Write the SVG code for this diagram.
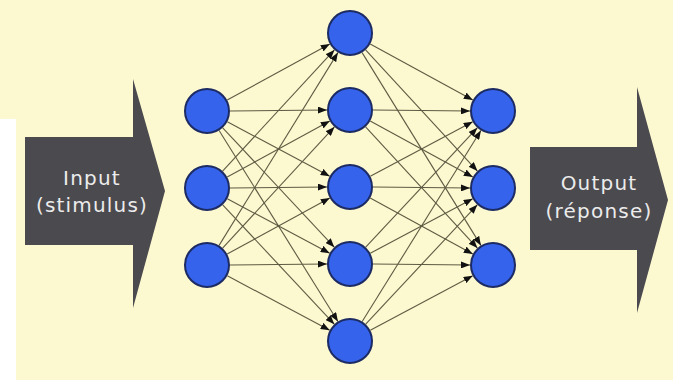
<svg xmlns="http://www.w3.org/2000/svg" width="673" height="380" viewBox="0 0 673 380">
<style>
.bg{fill:#fcf8cf}
.arrow{fill:#4b4a4f}
.lbl{font-family:"DejaVu Sans",sans-serif;font-size:20px;fill:#ececec;text-anchor:middle;letter-spacing:1.2px}
.node{fill:#3563ec;stroke:#1c2b63;stroke-width:2}
.conn line{stroke:#5e5b44;stroke-width:1.1;marker-end:url(#ah)}
</style>
<defs>
<marker id="ah" markerWidth="9" markerHeight="7" refX="9" refY="3.5" orient="auto" markerUnits="userSpaceOnUse">
<path d="M0,0 L9,3.5 L0,7 z" fill="#111"/>
</marker>
</defs>
<rect class="bg" x="0" y="0" width="673" height="380"/>
<rect x="0" y="119" width="16" height="261" fill="#ffffff"/>
<g id="input-arrow">
<polygon class="arrow" points="25,137 133,137 133,79 165,191 133,308 133,245 25,245"/>
<text class="lbl" x="92" y="185">Input</text>
<text class="lbl" x="92" y="212">(stimulus)</text>
</g>
<g id="output-arrow">
<polygon class="arrow" points="530,147 637,147 637,87 668,200 637,313 637,250 530,250"/>
<text class="lbl" x="599" y="190">Output</text>
<text class="lbl" x="599" y="218">(réponse)</text>
</g>
<g class="conn" id="connectors">
<line x1="227.2" y1="100.0" x2="329.8" y2="44.0"/>
<line x1="230" y1="111" x2="327" y2="110"/>
<line x1="227.3" y1="121.8" x2="329.7" y2="176.2"/>
<line x1="222.7" y1="127.8" x2="334.3" y2="247.2"/>
<line x1="219.1" y1="130.5" x2="337.9" y2="321.5"/>
<line x1="222.6" y1="171.1" x2="334.4" y2="49.9"/>
<line x1="227.2" y1="177.0" x2="329.8" y2="121.0"/>
<line x1="230" y1="188" x2="327" y2="187"/>
<line x1="227.3" y1="198.8" x2="329.7" y2="253.2"/>
<line x1="222.7" y1="204.8" x2="334.3" y2="324.2"/>
<line x1="219.1" y1="245.4" x2="337.9" y2="52.6"/>
<line x1="222.6" y1="248.1" x2="334.4" y2="126.9"/>
<line x1="227.2" y1="254.0" x2="329.8" y2="198.0"/>
<line x1="230" y1="265" x2="327" y2="264"/>
<line x1="227.3" y1="275.8" x2="329.7" y2="330.2"/>
<line x1="370.2" y1="44.0" x2="472.8" y2="100.0"/>
<line x1="365.6" y1="49.9" x2="477.4" y2="171.1"/>
<line x1="362.1" y1="52.6" x2="480.9" y2="245.4"/>
<line x1="373" y1="110" x2="470" y2="111"/>
<line x1="370.2" y1="121.0" x2="472.8" y2="177.0"/>
<line x1="365.6" y1="126.9" x2="477.4" y2="248.1"/>
<line x1="370.3" y1="176.2" x2="472.7" y2="121.8"/>
<line x1="373" y1="187" x2="470" y2="188"/>
<line x1="370.2" y1="198.0" x2="472.8" y2="254.0"/>
<line x1="365.7" y1="247.2" x2="477.3" y2="127.8"/>
<line x1="370.3" y1="253.2" x2="472.7" y2="198.8"/>
<line x1="373" y1="264" x2="470" y2="265"/>
<line x1="362.2" y1="321.5" x2="480.9" y2="130.5"/>
<line x1="365.7" y1="324.2" x2="477.3" y2="204.8"/>
<line x1="370.3" y1="330.2" x2="472.7" y2="275.8"/>
</g>
<g id="in1"><circle class="node" cx="207" cy="111" r="22"/></g>
<g id="in2"><circle class="node" cx="207" cy="188" r="22"/></g>
<g id="in3"><circle class="node" cx="207" cy="265" r="22"/></g>
<g id="h1"><circle class="node" cx="350" cy="33" r="22"/></g>
<g id="h2"><circle class="node" cx="350" cy="110" r="22"/></g>
<g id="h3"><circle class="node" cx="350" cy="187" r="22"/></g>
<g id="h4"><circle class="node" cx="350" cy="264" r="22"/></g>
<g id="h5"><circle class="node" cx="350" cy="341" r="22"/></g>
<g id="out1"><circle class="node" cx="493" cy="111" r="22"/></g>
<g id="out2"><circle class="node" cx="493" cy="188" r="22"/></g>
<g id="out3"><circle class="node" cx="493" cy="265" r="22"/></g>
</svg>
